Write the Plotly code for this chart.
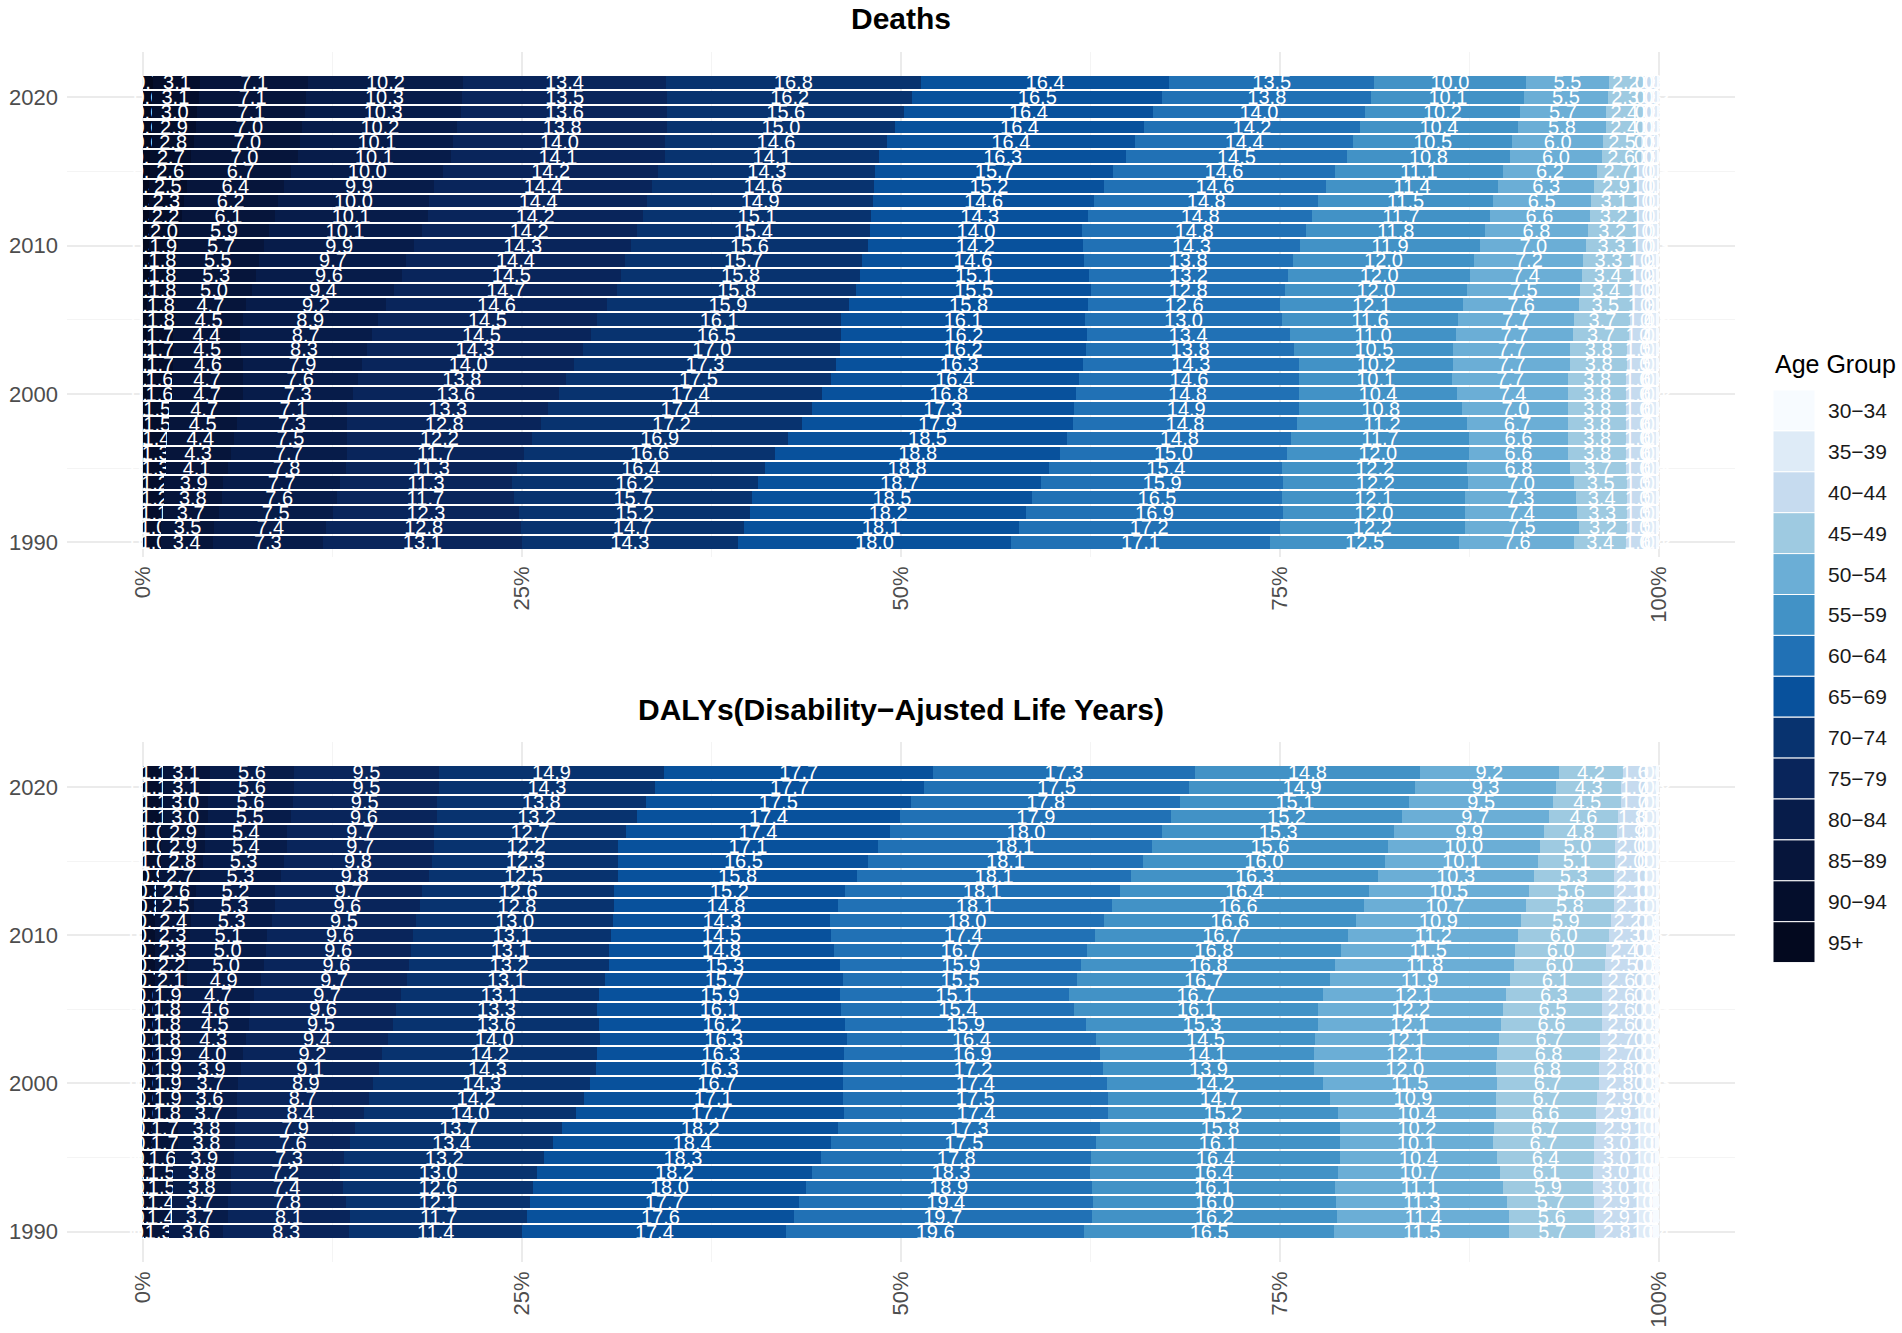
import plotly.graph_objects as go

# years, top row first
years = list(range(2021, 1989, -1))

age_groups = ["95+", "90−94", "85−89", "80−84", "75−79", "70−74", "65−69",
              "60−64", "55−59", "50−54", "45−49", "40−44", "35−39", "30−34"]

colors = ["#03091f", "#040e2c", "#06153b", "#071c4a", "#09255b", "#08336f", "#08519c",
          "#2171b5", "#4292c6", "#6baed6", "#9ecae1", "#c6dbef", "#deebf7", "#f7fbff"]

# Deaths, share (%) by age group, 2021 -> 1990
d_95 = [0.7, 0.6, 0.6, 0.6, 0.6, 0.5, 0.5, 0.4, 0.4, 0.4, 0.4, 0.4, 0.4, 0.4, 0.4, 0.3,
        0.3, 0.3, 0.3, 0.3, 0.3, 0.3, 0.2, 0.2, 0.2, 0.2, 0.2, 0.2, 0.2, 0.2, 0.2, 0.2]
d_90 = [3.1, 3.1, 3.0, 2.9, 2.8, 2.7, 2.6, 2.5, 2.3, 2.2, 2.0, 1.9, 1.8, 1.8, 1.8, 1.8,
        1.8, 1.7, 1.7, 1.7, 1.6, 1.6, 1.5, 1.5, 1.4, 1.3, 1.3, 1.2, 1.2, 1.1, 1.0, 1.0]
d_85 = [7.1, 7.1, 7.1, 7.0, 7.0, 7.0, 6.7, 6.4, 6.2, 6.1, 5.9, 5.7, 5.5, 5.3, 5.0, 4.7,
        4.5, 4.4, 4.5, 4.6, 4.7, 4.7, 4.7, 4.5, 4.4, 4.3, 4.1, 3.9, 3.8, 3.7, 3.5, 3.4]
d_80 = [10.2, 10.3, 10.3, 10.2, 10.1, 10.1, 10.0, 9.9, 10.0, 10.1, 10.1, 9.9, 9.7, 9.6, 9.4, 9.2,
        8.9, 8.7, 8.3, 7.9, 7.6, 7.3, 7.1, 7.3, 7.5, 7.7, 7.8, 7.7, 7.6, 7.5, 7.4, 7.3]
d_75 = [13.4, 13.5, 13.6, 13.8, 14.0, 14.1, 14.2, 14.4, 14.4, 14.2, 14.2, 14.3, 14.4, 14.5, 14.7, 14.6,
        14.5, 14.5, 14.3, 14.0, 13.8, 13.6, 13.3, 12.8, 12.2, 11.7, 11.3, 11.3, 11.7, 12.3, 12.8, 13.1]
d_70 = [16.8, 16.2, 15.6, 15.0, 14.6, 14.1, 14.3, 14.6, 14.9, 15.1, 15.4, 15.6, 15.7, 15.8, 15.8, 15.9,
        16.1, 16.5, 17.0, 17.3, 17.5, 17.4, 17.4, 17.2, 16.9, 16.6, 16.4, 16.2, 15.7, 15.2, 14.7, 14.3]
d_65 = [16.4, 16.5, 16.4, 16.4, 16.4, 16.3, 15.7, 15.2, 14.6, 14.3, 14.0, 14.2, 14.6, 15.1, 15.5, 15.8,
        16.1, 16.2, 16.2, 16.3, 16.4, 16.8, 17.3, 17.9, 18.5, 18.8, 18.8, 18.7, 18.5, 18.2, 18.1, 18.0]
d_60 = [13.5, 13.8, 14.0, 14.2, 14.4, 14.5, 14.6, 14.6, 14.8, 14.8, 14.8, 14.3, 13.8, 13.2, 12.8, 12.6,
        13.0, 13.4, 13.8, 14.3, 14.6, 14.8, 14.9, 14.8, 14.8, 15.0, 15.4, 15.9, 16.5, 16.9, 17.2, 17.1]
d_55 = [10.0, 10.1, 10.2, 10.4, 10.5, 10.8, 11.1, 11.4, 11.5, 11.7, 11.8, 11.9, 12.0, 12.0, 12.0, 12.1,
        11.6, 11.0, 10.5, 10.2, 10.1, 10.4, 10.8, 11.2, 11.7, 12.0, 12.2, 12.2, 12.1, 12.0, 12.2, 12.5]
d_50 = [5.5, 5.5, 5.7, 5.8, 6.0, 6.0, 6.2, 6.3, 6.5, 6.6, 6.8, 7.0, 7.2, 7.4, 7.5, 7.6,
        7.7, 7.7, 7.7, 7.7, 7.7, 7.4, 7.0, 6.7, 6.6, 6.6, 6.8, 7.0, 7.3, 7.4, 7.5, 7.6]
d_45 = [2.2, 2.3, 2.4, 2.4, 2.5, 2.6, 2.7, 2.9, 3.1, 3.2, 3.2, 3.3, 3.3, 3.4, 3.4, 3.5,
        3.7, 3.7, 3.8, 3.8, 3.8, 3.8, 3.8, 3.8, 3.8, 3.8, 3.7, 3.5, 3.4, 3.3, 3.2, 3.4]
d_40 = [0.8, 0.8, 0.8, 0.8, 0.9, 0.9, 1.0, 1.0, 1.0, 1.0, 1.1, 1.1, 1.2, 1.2, 1.3, 1.3,
        1.4, 1.4, 1.5, 1.5, 1.6, 1.6, 1.6, 1.6, 1.6, 1.6, 1.6, 1.5, 1.5, 1.5, 1.5, 1.6]
d_35 = [0.2, 0.2, 0.2, 0.2, 0.2, 0.2, 0.3, 0.3, 0.3, 0.3, 0.3, 0.3, 0.3, 0.3, 0.3, 0.3,
        0.3, 0.4, 0.4, 0.4, 0.4, 0.4, 0.4, 0.4, 0.4, 0.4, 0.4, 0.4, 0.4, 0.4, 0.4, 0.4]
d_30 = [0.1, 0.1, 0.1, 0.1, 0.1, 0.1, 0.1, 0.1, 0.1, 0.1, 0.1, 0.1, 0.2, 0.2, 0.2, 0.2,
        0.2, 0.2, 0.2, 0.2, 0.2, 0.2, 0.2, 0.2, 0.2, 0.2, 0.2, 0.2, 0.2, 0.2, 0.2, 0.2]

# DALYs, share (%) by age group, 2021 -> 1990
a_95 = [0.2, 0.2, 0.2, 0.2, 0.2, 0.2, 0.2, 0.2, 0.1, 0.1, 0.1, 0.1, 0.1, 0.1, 0.1, 0.1,
        0.1, 0.1, 0.1, 0.1, 0.1, 0.1, 0.1, 0.1, 0.1, 0.1, 0.1, 0.1, 0.1, 0.1, 0.1, 0.1]
a_90 = [1.1, 1.1, 1.1, 1.1, 1.0, 1.0, 1.0, 0.9, 0.8, 0.8, 0.7, 0.7, 0.7, 0.7, 0.7, 0.6,
        0.6, 0.6, 0.6, 0.6, 0.6, 0.6, 0.6, 0.6, 0.5, 0.5, 0.4, 0.4, 0.4, 0.4, 0.4, 0.3]
a_85 = [3.1, 3.1, 3.0, 3.0, 2.9, 2.9, 2.8, 2.7, 2.6, 2.5, 2.4, 2.3, 2.3, 2.2, 2.1, 1.9,
        1.8, 1.8, 1.8, 1.9, 1.9, 1.9, 1.9, 1.8, 1.7, 1.7, 1.6, 1.5, 1.5, 1.4, 1.4, 1.3]
a_80 = [5.6, 5.6, 5.6, 5.5, 5.4, 5.4, 5.3, 5.3, 5.2, 5.3, 5.3, 5.1, 5.0, 5.0, 4.9, 4.7,
        4.6, 4.5, 4.3, 4.0, 3.9, 3.7, 3.6, 3.7, 3.8, 3.8, 3.9, 3.8, 3.8, 3.7, 3.7, 3.6]
a_75 = [9.5, 9.5, 9.5, 9.6, 9.7, 9.7, 9.8, 9.8, 9.7, 9.6, 9.5, 9.6, 9.6, 9.6, 9.7, 9.7,
        9.6, 9.5, 9.4, 9.2, 9.1, 8.9, 8.7, 8.4, 7.9, 7.6, 7.3, 7.2, 7.4, 7.8, 8.1, 8.3]
a_70 = [14.9, 14.3, 13.8, 13.2, 12.7, 12.2, 12.3, 12.5, 12.6, 12.8, 13.0, 13.1, 13.1, 13.2, 13.1, 13.1,
        13.3, 13.6, 14.0, 14.2, 14.3, 14.3, 14.2, 14.0, 13.7, 13.4, 13.2, 13.0, 12.6, 12.1, 11.7, 11.4]
a_65 = [17.7, 17.7, 17.5, 17.4, 17.4, 17.1, 16.5, 15.8, 15.2, 14.8, 14.3, 14.5, 14.8, 15.3, 15.7, 15.9,
        16.1, 16.2, 16.3, 16.3, 16.3, 16.7, 17.1, 17.7, 18.2, 18.4, 18.3, 18.2, 18.0, 17.7, 17.6, 17.4]
a_60 = [17.3, 17.5, 17.8, 17.9, 18.0, 18.1, 18.1, 18.1, 18.1, 18.1, 18.0, 17.4, 16.7, 15.9, 15.5, 15.1,
        15.4, 15.9, 16.4, 16.9, 17.2, 17.4, 17.5, 17.4, 17.3, 17.5, 17.8, 18.3, 18.9, 19.4, 19.7, 19.6]
a_55 = [14.8, 14.9, 15.1, 15.2, 15.3, 15.6, 16.0, 16.3, 16.4, 16.6, 16.6, 16.7, 16.8, 16.8, 16.7, 16.7,
        16.1, 15.3, 14.5, 14.1, 13.9, 14.2, 14.7, 15.2, 15.8, 16.1, 16.4, 16.4, 16.1, 16.0, 16.2, 16.5]
a_50 = [9.2, 9.3, 9.5, 9.7, 9.9, 10.0, 10.1, 10.3, 10.5, 10.7, 10.9, 11.2, 11.5, 11.8, 11.9, 12.1,
        12.2, 12.1, 12.1, 12.1, 12.0, 11.5, 10.9, 10.4, 10.2, 10.1, 10.4, 10.7, 11.1, 11.3, 11.4, 11.5]
a_45 = [4.2, 4.3, 4.5, 4.6, 4.8, 5.0, 5.1, 5.3, 5.6, 5.8, 5.9, 6.0, 6.0, 6.0, 6.1, 6.3,
        6.5, 6.6, 6.7, 6.8, 6.8, 6.7, 6.7, 6.6, 6.7, 6.7, 6.4, 6.1, 5.9, 5.7, 5.6, 5.7]
a_40 = [1.6, 1.7, 1.7, 1.8, 1.9, 2.0, 2.0, 2.1, 2.1, 2.1, 2.2, 2.3, 2.4, 2.5, 2.6, 2.6,
        2.6, 2.6, 2.7, 2.7, 2.8, 2.8, 2.9, 2.9, 2.9, 3.0, 3.0, 3.0, 3.0, 2.9, 2.9, 2.8]
a_35 = [0.6, 0.6, 0.6, 0.7, 0.7, 0.7, 0.7, 0.7, 0.7, 0.7, 0.8, 0.8, 0.8, 0.8, 0.9, 0.9,
        0.9, 0.9, 0.9, 0.9, 0.9, 0.9, 0.9, 1.0, 1.0, 1.0, 1.0, 1.0, 1.0, 1.0, 1.0, 1.0]
a_30 = [0.2, 0.2, 0.2, 0.2, 0.2, 0.2, 0.2, 0.2, 0.2, 0.2, 0.2, 0.2, 0.3, 0.3, 0.3, 0.3,
        0.3, 0.3, 0.3, 0.3, 0.3, 0.3, 0.3, 0.3, 0.3, 0.3, 0.3, 0.4, 0.4, 0.4, 0.4, 0.4]

x_ticks = [0, 25, 50, 75, 100]
x_tick_labels = ["0%", "25%", "50%", "75%", "100%"]
y_ticks = [1990, 2000, 2010, 2020]

deaths = [d_95, d_90, d_85, d_80, d_75, d_70, d_65, d_60, d_55, d_50, d_45, d_40, d_35, d_30]
dalys = [a_95, a_90, a_85, a_80, a_75, a_70, a_65, a_60, a_55, a_50, a_45, a_40, a_35, a_30]

FONT = "Liberation Sans, Arial, sans-serif"
W, H = 1902, 1333

fig = go.Figure()

for panel, (xa, ya) in [(deaths, ("x", "y")), (dalys, ("x2", "y2"))]:
    for i, age in enumerate(age_groups):
        fig.add_trace(go.Bar(
            y=years, x=panel[i], orientation="h", name=age,
            marker=dict(color=colors[i], line=dict(width=0)),
            width=0.86,
            text=[f"{v:.1f}" for v in panel[i]],
            textposition="inside", insidetextanchor="middle",
            textangle=0, constraintext="none",
            insidetextfont=dict(color="white", size=20, family=FONT),
            showlegend=False, xaxis=xa, yaxis=ya,
        ))

# panel geometry, in pixels of the 1902x1333 page
x_dom = [67 / W, 1735 / W]
y_dom_top = [1 - 557 / H, 1 - 52 / H]
y_dom_bot = [1 - 1262 / H, 1 - 742 / H]


def x_style():
    return dict(
        range=[-5, 105], tickvals=x_ticks, ticktext=x_tick_labels, tickangle=-90,
        showgrid=True, gridcolor="#ebebeb", gridwidth=1.6, zeroline=False, showline=False,
        ticks="", ticklabelstandoff=4,
        tickfont=dict(size=22, color="#4d4d4d", family=FONT),
        minor=dict(tickvals=[12.5, 37.5, 62.5, 87.5], showgrid=True, gridcolor="#f4f4f4", gridwidth=1),
    )


def y_style(lo):
    return dict(
        range=[lo, 2023.05], tickvals=y_ticks,
        showgrid=True, gridcolor="#ebebeb", gridwidth=1.6, zeroline=False, showline=False,
        ticks="", ticklabelstandoff=8,
        tickfont=dict(size=22, color="#4d4d4d", family=FONT),
        minor=dict(tickvals=[1995, 2005, 2015], showgrid=True, gridcolor="#f4f4f4", gridwidth=1),
    )


fig.update_layout(
    width=W, height=H,
    margin=dict(l=0, r=0, t=0, b=0),
    paper_bgcolor="white", plot_bgcolor="white",
    barmode="stack", barnorm="percent",
    font=dict(family=FONT),
    xaxis=dict(domain=x_dom, anchor="y", **x_style()),
    yaxis=dict(domain=y_dom_top, anchor="x", **y_style(1989.0)),
    xaxis2=dict(domain=x_dom, anchor="y2", **x_style()),
    yaxis2=dict(domain=y_dom_bot, anchor="x2", **y_style(1987.95)),
)

# panel titles
mid = (x_dom[0] + x_dom[1]) / 2
fig.add_annotation(text="<b>Deaths</b>", x=mid, y=1 - 18 / H, xref="paper", yref="paper",
                   yanchor="middle", showarrow=False, font=dict(size=30, color="black"))
fig.add_annotation(text="<b>DALYs(Disability−Ajusted Life Years)</b>", x=mid, y=1 - 709 / H,
                   xref="paper", yref="paper", yanchor="middle", showarrow=False,
                   font=dict(size=30, color="black"))

# legend (ggplot style key column)
fig.add_annotation(text="Age Group", x=1773 / W, y=1 - 364 / H, xref="paper", yref="paper",
                   xanchor="left", yanchor="middle", showarrow=False,
                   font=dict(size=25, color="black"))
key_top, key_h = 390, 40.9
for j, i in enumerate(range(len(age_groups) - 1, -1, -1)):
    y0 = key_top + j * key_h
    fig.add_shape(type="rect", xref="paper", yref="paper",
                  x0=1773 / W, x1=1815 / W, y0=1 - y0 / H, y1=1 - (y0 + key_h) / H,
                  fillcolor=colors[i], line=dict(color="white", width=1))
    fig.add_annotation(text=age_groups[i], x=1826 / W, y=1 - (y0 + key_h / 2) / H,
                       xref="paper", yref="paper", xanchor="left", yanchor="middle",
                       showarrow=False, font=dict(size=21, color="#1a1a1a"))

fig.write_html("out.html", config={"displayModeBar": False},
               post_script="document.body.style.margin='0';")
